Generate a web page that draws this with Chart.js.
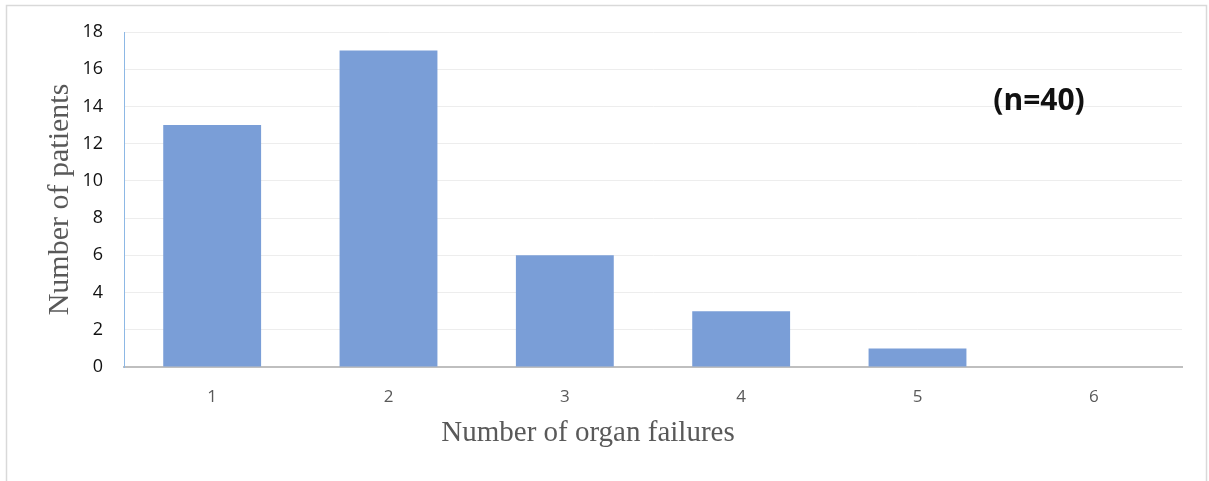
<!DOCTYPE html>
<html>
<head>
<meta charset="utf-8">
<script src="https://cdn.jsdelivr.net/npm/chart.js@4/dist/chart.umd.min.js"></script>
<style>
  html, body { margin: 0; padding: 0; background: #fff; }
  #wrap { width: 1209px; height: 481px; }
</style>
</head>
<body>
<div id="wrap"><canvas id="organChart" width="1209" height="481"></canvas></div>
<script>
const failureCounts = ['1', '2', '3', '4', '5', '6'];
const patientCounts = [13, 17, 6, 3, 1, 0];
const sampleNote = '(n=40)';
const xTitle = 'Number of organ failures';
const yTitle = 'Number of patients';

const ctx = document.getElementById('organChart').getContext('2d');

// grey frame round the whole picture
const framePlugin = {
    id: 'frame',
    beforeDraw(chart) {
        const c = chart.ctx;
        c.save();
        c.fillStyle = '#fff';
        c.fillRect(0, 0, chart.width, chart.height);
        c.strokeStyle = '#D9D9D9';
        c.lineWidth = 1.5;
        c.strokeRect(6.5, 5.5, 1200, 490);
        c.restore();
    }
};

// "(n=40)" note and the x title, which sits left of the plot centre
const textPlugin = {
    id: 'texts',
    afterDraw(chart) {
        const c = chart.ctx;
        c.save();
        c.textAlign = 'center';
        c.textBaseline = 'middle';
        c.font = 'bold 30px "Open Sans"';
        c.fillStyle = '#111';
        c.fillText(sampleNote, 1039, 101);
        c.font = '29px "Liberation Serif"';
        c.fillStyle = '#595959';
        c.fillText(xTitle, 588, 433);
        c.restore();
    }
};

new Chart(ctx, {
    type: 'bar',
    data: {
        labels: failureCounts,
        datasets: [{
            label: 'Patients',
            data: patientCounts,
            backgroundColor: '#7A9ED7',
            borderWidth: 0,
            categoryPercentage: 1,
            barPercentage: 0.555
        }]
    },
    options: {
        responsive: false,
        animation: false,
        layout: { padding: { top: 32, right: 27, left: 0, bottom: 0 } },
        plugins: {
            legend: { display: false },
            tooltip: { enabled: false }
        },
        scales: {
            x: {
                grid: { display: false, drawTicks: false },
                border: { display: true, color: '#BFBFBF', width: 2 },
                ticks: {
                    color: '#595959',
                    font: { family: 'Open Sans', size: 17 },
                    padding: 20
                },
                afterFit(scale) { scale.height = 114; }
            },
            y: {
                min: 0,
                max: 18,
                ticks: {
                    stepSize: 2,
                    color: '#111',
                    font: { family: 'Open Sans', size: 18 },
                    padding: 21
                },
                grid: { color: '#EDEDED', drawTicks: false },
                border: { display: true, color: '#8DB8E5', width: 1 },
                title: {
                    display: true,
                    text: yTitle,
                    color: '#595959',
                    font: { family: 'Liberation Serif', size: 30 },
                    padding: { top: 42, bottom: 0 }
                },
                afterFit(scale) { scale.width = 124; }
            }
        }
    },
    plugins: [framePlugin, textPlugin]
});
</script>
</body>
</html>
